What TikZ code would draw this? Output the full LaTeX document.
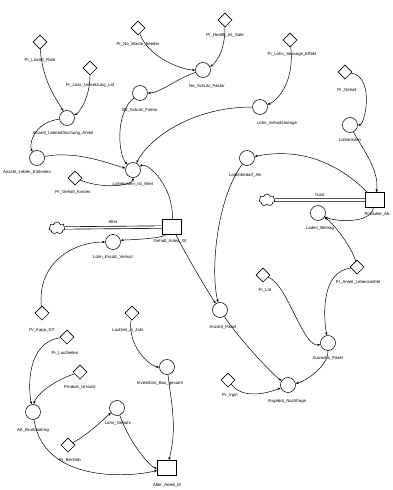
\documentclass[tikz,border=0pt]{standalone}
\usepackage{fontspec}
\setmainfont{Liberation Sans}
\usetikzlibrary{shapes.geometric,shapes.symbols,arrows.meta}
\begin{document}
\begin{tikzpicture}[x=1pt,y=-1pt,
  every node/.style={font=\fontsize{4.3}{5}\selectfont},
  aux/.style={circle,draw,minimum size=15pt,inner sep=0pt,line width=0.55pt},
  const/.style={diamond,draw,minimum size=14pt,inner sep=0pt,line width=0.55pt},
  stock/.style={rectangle,draw,minimum width=19pt,minimum height=15pt,inner sep=0pt,line width=0.55pt},
  src/.style={cloud,cloud puffs=7,draw,minimum width=16pt,minimum height=12pt,inner sep=0pt,line width=0.55pt},
  lab/.style={inner sep=0.5pt},
  conn/.style={-{Stealth[length=3.2pt,width=2.4pt]},line width=0.5pt},
  pipe/.style={double,double distance=1.8pt,line width=0.65pt}]
\useasboundingbox (0,0) rectangle (393,490);
% constants
\node[const] (d1) at (40,42) {};   \node[lab] (d1l) at (40,60) {Pr\_Lossfit\_Rate};
\node[const] (d2) at (90,68) {};   \node[lab] (d2l) at (90,85) {Pr\_Loss\_Umsetzung\_Ltd};
\node[const] (d3) at (138,28) {};  \node[lab] (d3l) at (138,44) {Pr\_No\_Waste\_Seeder};
\node[const] (d4) at (225,20) {};  \node[lab] (d4l) at (225,35) {Pr\_Health\_Int\_Sale};
\node[const] (d5) at (290,40) {};  \node[lab] (d5l) at (292,54) {Pr\_Lohn\_Sessoge\_Effekt};
\node[const] (d6) at (345,72) {};  \node[lab] (d6l) at (347,90) {Pr\_Gehalt};
\node[const] (d7) at (75,178) {};  \node[lab] (d7l) at (73,192) {Pr\_Gehalt\_Kosten};
\node[const] (d8) at (357,267) {}; \node[lab] (d8l) at (358,282) {Pr\_Anteil\_Lebensmittel};
\node[const] (d9) at (263,275) {}; \node[lab] (d9l) at (265,290) {Pr\_Ltd};
\node[const] (d10) at (228,380) {};\node[lab] (d10l) at (230,395) {Pr\_Vgm};
\node[const] (d11) at (42,313) {}; \node[lab] (d11l) at (42,330) {Pr\_Kapa\_GT};
\node[const] (d12) at (67,337) {}; \node[lab] (d12l) at (65,353) {Pr\_Laufzeiten};
\node[const] (d13) at (132,313) {};\node[lab] (d13l) at (128,330) {Laufzeit\_in\_Jahr};
\node[const] (d14) at (80,372) {}; \node[lab] (d14l) at (80,387) {Produkt\_Umsatz};
\node[const] (d15) at (68,445) {}; \node[lab] (d15l) at (70,460) {Pr\_Bertrieb};
% auxiliaries
\node[aux] (c1) at (67,118) {};  \node[lab] (c1l) at (63,133) {Anzahl\_Lebendfrischung\_Anteil};
\node[aux] (c2) at (140,93) {};  \node[lab] (c2l) at (140,110) {Bd\_Schutz\_Faktor};
\node[aux] (c3) at (203,70) {};  \node[lab] (c3l) at (207,86) {Ne\_Schutz\_Faktor};
\node[aux] (c4) at (260,107) {}; \node[lab] (c4l) at (277,123) {Lohn\_Gehaltsmenge};
\node[aux] (c5) at (350,125) {}; \node[lab] (c5l) at (350,140) {Lohnkosten};
\node[aux] (c6) at (37,158) {};  \node[lab] (c6l) at (27,172) {Anzahl\_Leben\_Einheiten};
\node[aux] (c7) at (133,170) {}; \node[lab] (c7l) at (133,184) {Lohnkosten\_Ist\_Wert};
\node[aux] (c8) at (247,158) {}; \node[lab] (c8l) at (245,175) {Ladenbedarf\_Ab};
\node[aux] (c9) at (220,310) {}; \node[lab] (c9l) at (223,327) {Anzahl\_Paket};
\node[aux] (c10) at (328,343) {};\node[lab] (c10l) at (328,358) {Zuwachs\_Paket};
\node[aux] (c11) at (288,385) {};\node[lab] (c11l) at (287,401) {Angebot\_Nachfrage};
\node[aux] (c12) at (33,412) {}; \node[lab] (c12l) at (33,430) {AK\_Bruttobetrag};
\node[aux] (c13) at (167,367) {};\node[lab] (c13l) at (160,383) {Investition\_Bau\_gesamt};
\node[aux] (c14) at (117,408) {};\node[lab] (c14l) at (118,423) {Lohn\_Gebühr};
% stocks and flows
\node[stock] (s1) at (172,227) {}; \node[lab] (s1l) at (170,241) {Gehalt\_Anteil\_Gt};
\node[stock] (s2) at (375,200) {}; \node[lab] (s2l) at (377,214) {Produkte\_Ab};
\node[stock] (s3) at (167,468) {}; \node[lab] (s3l) at (167,485) {Alter\_Anteil\_M};
\node[src] (q1) at (57,228) {};
\node[src] (q2) at (267,200) {};
\draw[pipe] (q1) -- (s1);
\draw[pipe] (q2) -- (s2);
\node[lab] (f1t) at (113,222) {Alter};
\node[aux] (f1) at (113,242) {};  \node[lab] (f1l) at (113,257) {Lohn\_Ersatz\_Verlust};
\node[lab] (f2t) at (320,195) {Gast};
\node[aux] (f2) at (318,213) {};  \node[lab] (f2l) at (320,228) {Laden\_Beitrag};
% connectors
\draw[conn] (d1) .. controls +(2,40) and +(-8,-15) .. (c1);
\draw[conn] (d2) .. controls +(0,30) and +(12,-5) .. (c1);
\draw[conn] (d3) .. controls +(10,30) and +(-20,0) .. (c3);
\draw[conn] (d4) .. controls +(0,35) and +(10,-5) .. (c3);
\draw[conn] (d5) .. controls +(5,45) and +(15,-5) .. (c4);
\draw[conn] (d6) .. controls +(30,5) and +(15,0) .. (c5);
\draw[conn] (c3) .. controls +(-25,8) and +(20,0) .. (c2);
\draw[conn] (c4) .. controls +(-70,0) and +(15,-30) .. (c7);
\draw[conn] (c2) .. controls +(-25,20) and +(-15,-15) .. (c7);
\draw[conn] (c1) .. controls +(-35,5) and +(-8,-12) .. (c6);
\draw[conn] (c6) .. controls +(40,-8) and +(-20,-5) .. (c7);
\draw[conn] (d7) .. controls +(30,12) and +(0,15) .. (c7);
\draw[conn] (s1) .. controls +(2,-40) and +(15,-8) .. (c7);
\draw[conn] (s2) .. controls +(-40,-40) and +(50,-10) .. (c8);
\draw[conn] (c5) .. controls +(10,20) and +(5,-30) .. (s2);
\draw[conn] (c8) .. controls +(-30,40) and +(-10,-40) .. (c9);
\draw[conn] (s1) .. controls +(15,30) and +(-10,-15) .. (c9);
\draw[conn] (c9) .. controls +(20,30) and +(-15,-10) .. (c11);
\draw[conn] (d9) .. controls +(25,10) and +(-25,5) .. (c10);
\draw[conn] (d8) .. controls +(-35,5) and +(-5,-30) .. (c10);
\draw[conn] (d8) .. controls +(-5,-20) and +(15,10) .. (f2);
\draw[conn] (s2) .. controls +(-5,25) and +(15,8) .. (f2);
\draw[conn] (c10) .. controls +(0,25) and +(15,-3) .. (c11);
\draw[conn] (d10) .. controls +(15,20) and +(-20,8) .. (c11);
\draw[conn] (d11) .. controls +(-5,-50) and +(-40,0) .. (f1);
\draw[conn] (s1) .. controls +(-10,12) and +(10,-2) .. (f1);
\draw[conn] (d13) .. controls +(-5,35) and +(-15,0) .. (c13);
\draw[conn] (d12) .. controls +(-40,5) and +(-5,-25) .. (c12);
\draw[conn] (d14) .. controls +(-30,10) and +(2,-15) .. (c12);
\draw[conn] (c13) .. controls +(5,40) and +(10,-40) .. (s3);
\draw[conn] (c14) .. controls +(15,40) and +(-15,0) .. (s3);
\draw[conn] (d15) .. controls +(20,-10) and +(-10,8) .. (c14);
\draw[conn] (c12) .. controls +(10,70) and +(-40,10) .. (s3);
\end{tikzpicture}
\end{document}
